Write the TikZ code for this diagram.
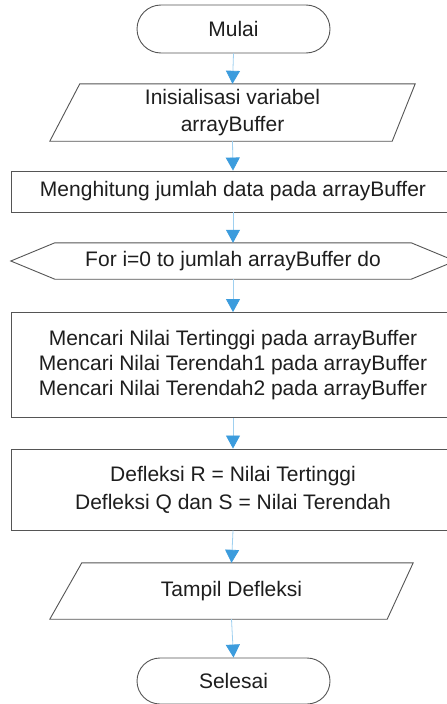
\documentclass[tikz,border=0pt]{standalone}
\usepackage{fontspec}
\setmainfont{Liberation Sans}
\usetikzlibrary{shapes.misc,arrows.meta}
\definecolor{edge}{HTML}{555555}
\definecolor{txt}{HTML}{1E1E1E}
\definecolor{flowline}{HTML}{9FD0F0}
\definecolor{flowtip}{HTML}{3C9CDD}
\begin{document}
\begin{tikzpicture}[x=1pt,y=-1pt,
  every node/.style={font=\fontsize{21}{25}\selectfont, text=txt, align=center, inner sep=0pt},
  outline/.style={draw=edge, line width=0.9pt},
  box/.style={outline, rectangle, minimum width=444pt},
  term/.style={outline, rounded rectangle, minimum width=193pt, minimum height=48pt},
  flow/.style={draw=flowline, line width=0.8pt,
    -{Triangle[width=14pt,length=13pt,color=flowtip,fill=flowtip]}}]
\useasboundingbox (0,0) rectangle (447,704);
\clip (0,0) rectangle (447,704);
\fill[white] (0,0) rectangle (447,704);

% terminator: start
\node[term] (start) at (233.5,29) {Mulai};
% input: variable initialisation (parallelogram)
\node[minimum width=365pt, minimum height=57pt] (init) at (232.5,112.5)
  {Inisialisasi variabel\\[2pt]arrayBuffer};
\draw[outline] (init.south west) -- ([xshift=30pt]init.north west)
  -- (init.north east) -- ([xshift=-23pt]init.south east) -- cycle;
% process: count the buffer
\node[box, minimum height=41pt] (count) at (233,191.5) {Menghitung jumlah data pada arrayBuffer};
% loop header (hexagon)
\node[minimum width=444pt, minimum height=36pt] (loop) at (233,261) {For i=0 to jumlah arrayBuffer do};
\draw[outline] (loop.west) -- ([xshift=44pt]loop.north west)
  -- ([xshift=-44pt]loop.north east) -- (loop.east)
  -- ([xshift=-44pt]loop.south east) -- ([xshift=44pt]loop.south west) -- cycle;
% process: search extremes
\node[box, minimum height=105pt] (search) at (233,365)
  {Mencari Nilai Tertinggi pada arrayBuffer\\Mencari Nilai Terendah1 pada arrayBuffer\\Mencari Nilai Terendah2 pada arrayBuffer};
% process: assign deflections
\node[box, minimum height=81pt] (assign) at (233,489.5)
  {Defleksi R = Nilai Tertinggi\\[3pt]Defleksi Q dan S = Nilai Terendah};
% output (parallelogram)
\node[minimum width=363pt, minimum height=56pt] (show) at (231.5,591) {Tampil Defleksi};
\draw[outline] (show.south west) -- ([xshift=32pt]show.north west)
  -- (show.north east) -- ([xshift=-26pt]show.south east) -- cycle;
% terminator: end
\node[term, minimum height=46pt] (stop) at (233.5,681) {Selesai};

% connectors
\draw[flow] (start.south) -- (init.north);
\draw[flow] (init.south) -- (count.north);
\draw[flow] (count.south) -- (loop.north);
\draw[flow] (loop.south) -- (search.north);
\draw[flow] (search.south) -- (assign.north);
\draw[flow] (assign.south) -- (show.north);
\draw[flow] (show.south) -- (stop.north);
\end{tikzpicture}
\end{document}
